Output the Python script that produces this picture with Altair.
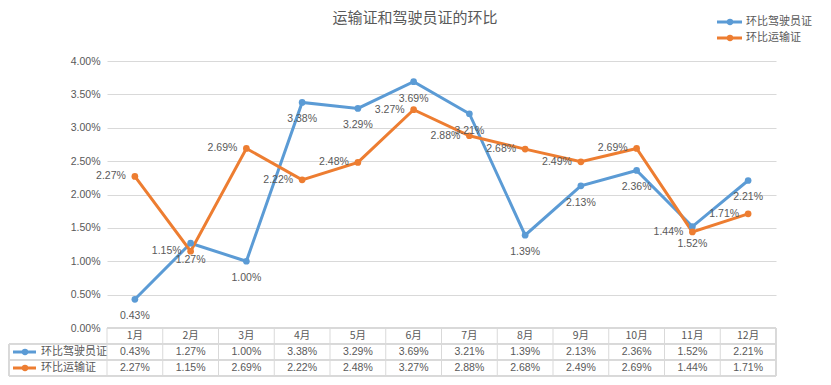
import altair as alt
import pandas as pd

months = ["1月", "2月", "3月", "4月", "5月", "6月", "7月", "8月", "9月", "10月", "11月", "12月"]
driver = [0.43, 1.27, 1.00, 3.38, 3.29, 3.69, 3.21, 1.39, 2.13, 2.36, 1.52, 2.21]
transport = [2.27, 1.15, 2.69, 2.22, 2.48, 3.27, 2.88, 2.68, 2.49, 2.69, 1.44, 1.71]
series_names = ["环比驾驶员证", "环比运输证"]
colors = ["#5B9BD5", "#ED7D31"]
title_text = "运输证和驾驶员证的环比"
y_ticks = [0, 0.005, 0.01, 0.015, 0.02, 0.025, 0.03, 0.035, 0.04]

rows = []
for m, d, t in zip(months, driver, transport):
    rows.append({"month": m, "series": series_names[0], "value": d / 100, "label": f"{d:.2f}%"})
    rows.append({"month": m, "series": series_names[1], "value": t / 100, "label": f"{t:.2f}%"})
df = pd.DataFrame(rows)
mdf = pd.DataFrame({"month": months})

W, H = 669, 267
GRID = "#d9d9d9"
TXT = "#595959"
CJK = "Noto Sans CJK SC"
NUM = "Liberation Sans"

xscale = alt.Scale(type="band", domain=months, paddingInner=0, paddingOuter=0)
yscale = alt.Scale(domain=[0, 0.04])
cscale = alt.Scale(domain=series_names, range=colors)

X = alt.X("month:N", scale=xscale, sort=months, axis=None, bandPosition=0.5)
yaxis = alt.Axis(values=y_ticks, format=".2%", grid=True, gridColor=GRID,
                 domain=False, ticks=False, labelPadding=7, labelColor=TXT,
                 labelFont=NUM, labelFontSize=10.5, title=None, labelOverlap=False)
Y = alt.Y("value:Q", scale=yscale, axis=yaxis)

base = alt.Chart(df)

lines = base.mark_line(strokeWidth=3).encode(
    x=X, y=Y, color=alt.Color("series:N", scale=cscale, legend=None))
points = base.mark_circle(size=45, opacity=1).encode(
    x=X, y=Y, color=alt.Color("series:N", scale=cscale, legend=None))

lbl_blue = base.transform_filter(alt.datum.series == series_names[0]).mark_text(
    dy=17, font=NUM, fontSize=10.5, color=TXT).encode(x=X, y=Y, text="label:N")
lbl_orange = base.transform_filter(alt.datum.series == series_names[1]).mark_text(
    dx=-9, align="right", font=NUM, fontSize=10.5, color=TXT).encode(x=X, y=Y, text="label:N")

# data table
ROW_TOP = [H, H + 16, H + 32, H + 48]
hlines = []
hlines.append(alt.Chart(mdf).mark_rule(color=GRID).encode(
    x=alt.value(0), x2=alt.value(W), y=alt.value(ROW_TOP[0])))
for yy in ROW_TOP[1:]:
    hlines.append(alt.Chart(mdf).mark_rule(color=GRID).encode(
        x=alt.value(-98), x2=alt.value(W), y=alt.value(yy)))
vlines = alt.Chart(mdf).mark_rule(color=GRID).encode(
    x=alt.X("month:N", scale=xscale, sort=months, axis=None, bandPosition=0),
    y=alt.value(ROW_TOP[0]), y2=alt.value(ROW_TOP[3]))
vright = alt.Chart(mdf).mark_rule(color=GRID).encode(
    x=alt.value(W), y=alt.value(ROW_TOP[0]), y2=alt.value(ROW_TOP[3]))
vleft = alt.Chart(mdf).mark_rule(color=GRID).encode(
    x=alt.value(-98), y=alt.value(ROW_TOP[1]), y2=alt.value(ROW_TOP[3]))

header = alt.Chart(mdf).mark_text(font=CJK, fontSize=10.5, color=TXT).encode(
    x=X, y=alt.value(ROW_TOP[0] + 8), text="month:N")

table_layers = [header, vlines, vright, vleft] + hlines
for i, s in enumerate(series_names):
    yc = ROW_TOP[1 + i] + 8
    table_layers.append(base.transform_filter(alt.datum.series == s).mark_text(
        font=NUM, fontSize=10.5, color=TXT).encode(x=X, y=alt.value(yc), text="label:N"))
    sd = pd.DataFrame({"series": [s]})
    table_layers.append(alt.Chart(sd).mark_rule(color=colors[i], strokeWidth=3).encode(
        x=alt.value(-94), x2=alt.value(-71), y=alt.value(yc)))
    table_layers.append(alt.Chart(sd).mark_circle(color=colors[i], size=40, opacity=1).encode(
        x=alt.value(-82), y=alt.value(yc)))
    table_layers.append(alt.Chart(sd).mark_text(align="left", font=CJK, fontSize=11, color=TXT).encode(
        x=alt.value(-66), y=alt.value(yc), text="series:N"))

# top legend
legend_layers = []
for i, s in enumerate(series_names):
    ly = -39 + 16 * i
    sd = pd.DataFrame({"series": [s]})
    legend_layers.append(alt.Chart(sd).mark_rule(color=colors[i], strokeWidth=3).encode(
        x=alt.value(610), x2=alt.value(635), y=alt.value(ly)))
    legend_layers.append(alt.Chart(sd).mark_circle(color=colors[i], size=40, opacity=1).encode(
        x=alt.value(623), y=alt.value(ly)))
    legend_layers.append(alt.Chart(sd).mark_text(align="left", font=CJK, fontSize=11, color=TXT).encode(
        x=alt.value(639), y=alt.value(ly), text="series:N"))

title = alt.Chart(pd.DataFrame({"t": [title_text]})).mark_text(
    font=CJK, fontSize=15, color=TXT).encode(x=alt.value(308), y=alt.value(-43), text="t:N")

chart = alt.layer(
    lines, points, lbl_blue, lbl_orange, *table_layers, *legend_layers, title
).properties(
    width=W, height=H,
    autosize=alt.AutoSizeParams(type="none"),
    padding={"left": 99, "top": 53, "right": 47, "bottom": 49},
    background="white",
).configure_view(stroke=None)

chart.save("out.html", embed_options={"renderer": "svg", "actions": False})
